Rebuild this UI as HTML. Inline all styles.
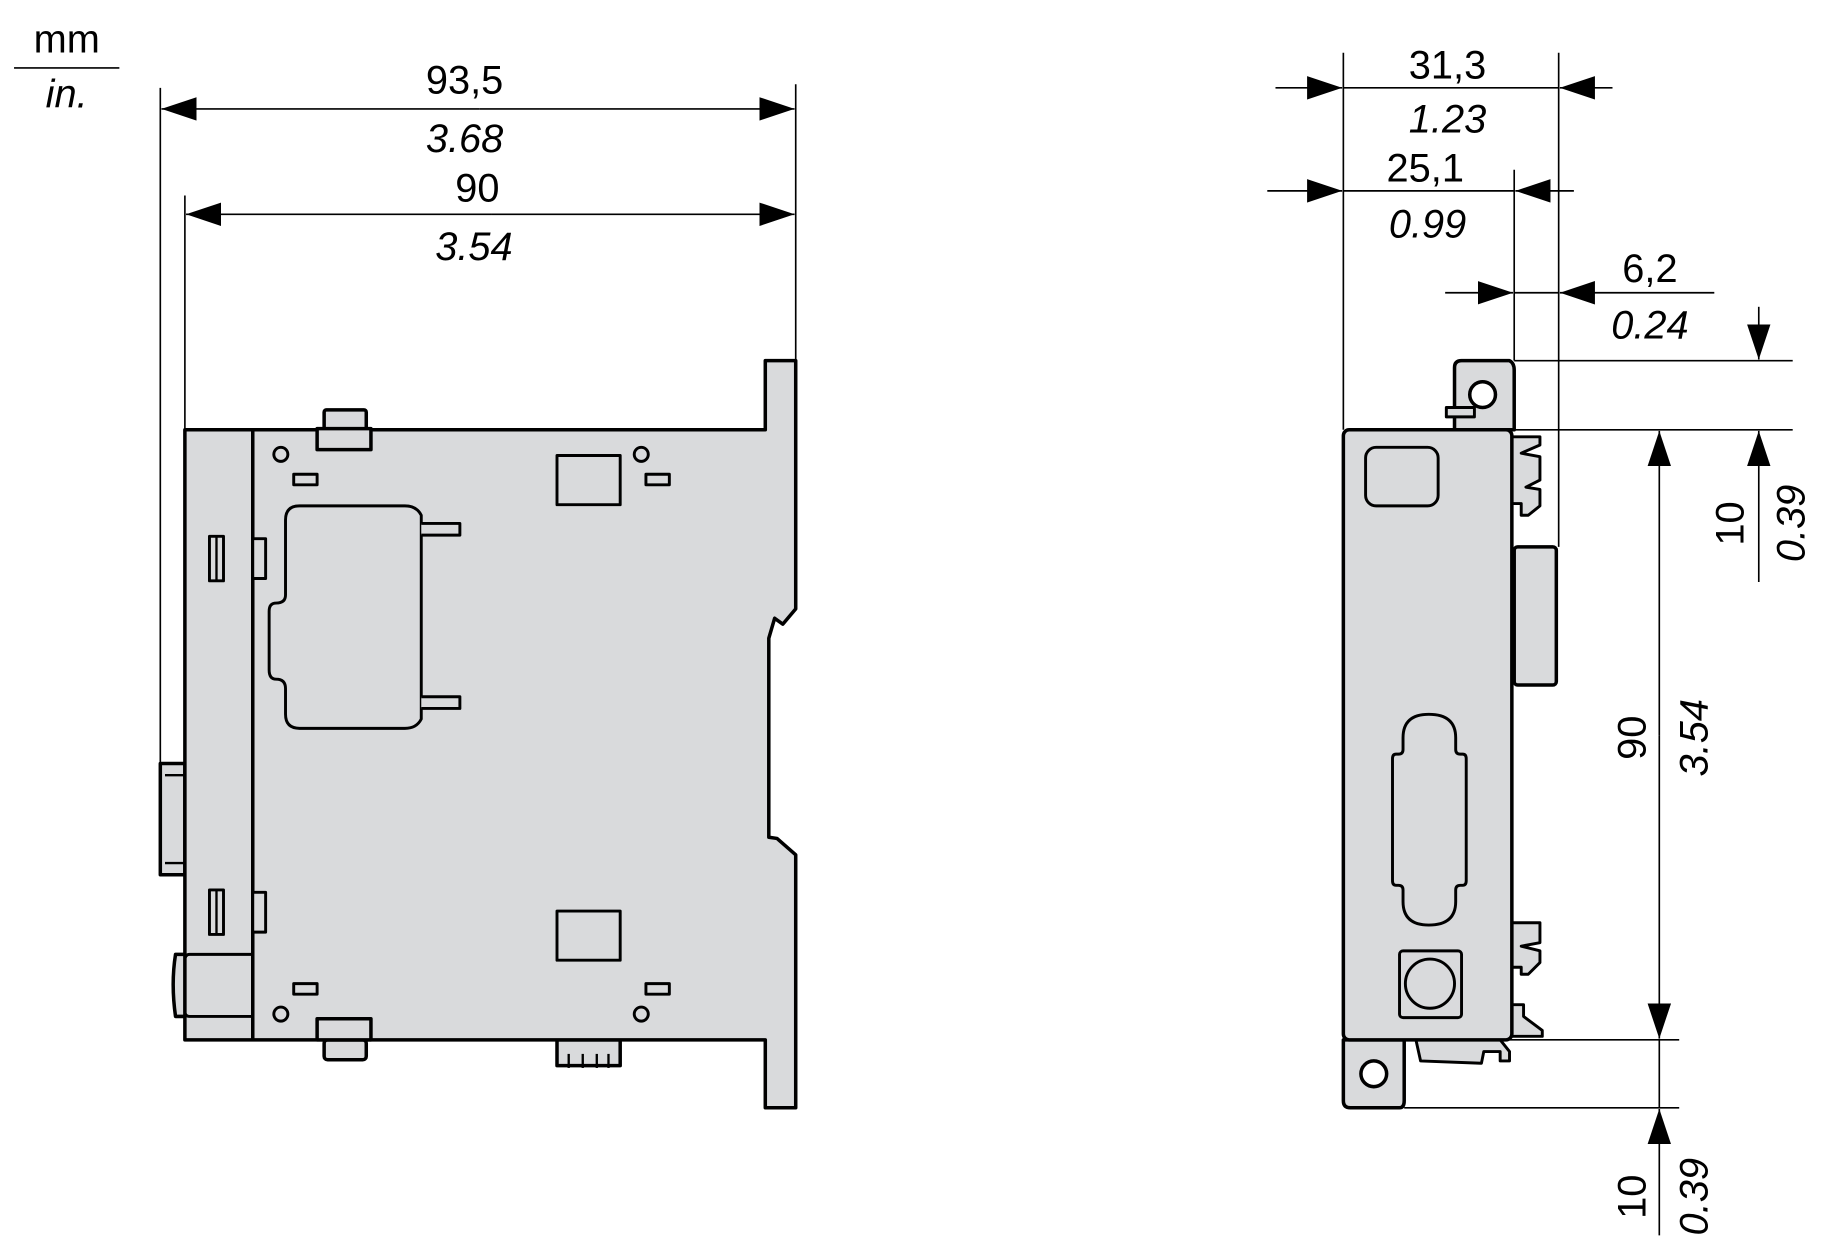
<!DOCTYPE html>
<html><head><meta charset="utf-8"><style>
html,body{margin:0;padding:0;background:#fff;}
svg{display:block;}
text{font-family:"Liberation Sans",Arial,sans-serif;fill:#000;}
</style></head><body>
<svg width="1836" height="1260" viewBox="0 0 1569 1076" preserveAspectRatio="none" xmlns="http://www.w3.org/2000/svg">
<defs>
<marker id="a" viewBox="0 0 30 20" refX="30" refY="10" markerWidth="30" markerHeight="20" markerUnits="userSpaceOnUse" orient="auto"><path d="M0,0 L30,10 L0,20 Z" fill="#000"/></marker>
</defs>
<g stroke="#000" stroke-width="1.4" fill="none">
<line x1="12" y1="58" x2="102" y2="58"/>
<line x1="137" y1="75" x2="137" y2="745"/>
<line x1="680" y1="72" x2="680" y2="310"/>
<line x1="158" y1="167" x2="158" y2="367"/>
<line x1="410" y1="93" x2="138" y2="93" marker-end="url(#a)"/>
<line x1="410" y1="93" x2="679" y2="93" marker-end="url(#a)"/>
<line x1="420" y1="183" x2="159" y2="183" marker-end="url(#a)"/>
<line x1="420" y1="183" x2="679" y2="183" marker-end="url(#a)"/>
<line x1="1148" y1="45" x2="1148" y2="367"/>
<line x1="1332" y1="45" x2="1332" y2="467"/>
<line x1="1294" y1="145" x2="1294" y2="308"/>
<line x1="1090" y1="75" x2="1147" y2="75" marker-end="url(#a)"/>
<line x1="1378" y1="75" x2="1333" y2="75" marker-end="url(#a)"/>
<line x1="1148" y1="75" x2="1332" y2="75"/>
<line x1="1083" y1="163" x2="1147" y2="163" marker-end="url(#a)"/>
<line x1="1345" y1="163" x2="1295" y2="163" marker-end="url(#a)"/>
<line x1="1148" y1="163" x2="1294" y2="163"/>
<line x1="1235" y1="250" x2="1293" y2="250" marker-end="url(#a)"/>
<line x1="1465" y1="250" x2="1333" y2="250" marker-end="url(#a)"/>
<line x1="1294" y1="250" x2="1332" y2="250"/>
<line x1="1294" y1="308" x2="1532" y2="308"/>
<line x1="1290" y1="367" x2="1532" y2="367"/>
<line x1="1503" y1="262" x2="1503" y2="307" marker-end="url(#a)"/>
<line x1="1503" y1="497" x2="1503" y2="368" marker-end="url(#a)"/>
<line x1="1418" y1="628" x2="1418" y2="368" marker-end="url(#a)"/>
<line x1="1418" y1="628" x2="1418" y2="887" marker-end="url(#a)"/>
<line x1="1290" y1="888" x2="1435" y2="888"/>
<line x1="1200" y1="946" x2="1435" y2="946"/>
<line x1="1418" y1="888" x2="1418" y2="946"/>
<line x1="1418" y1="1055" x2="1418" y2="947" marker-end="url(#a)"/>
</g>
<g font-size="34" text-anchor="middle">
<text x="57" y="45">mm</text>
<text x="57" y="92" font-style="italic">in.</text>
<text x="397" y="80">93,5</text>
<text x="397" y="130" font-style="italic">3.68</text>
<text x="408" y="172">90</text>
<text x="405" y="222" font-style="italic">3.54</text>
<text x="1237" y="67">31,3</text>
<text x="1237" y="113" font-style="italic">1.23</text>
<text x="1218" y="155">25,1</text>
<text x="1220" y="203" font-style="italic">0.99</text>
<text x="1410" y="241">6,2</text>
<text x="1410" y="289" font-style="italic">0.24</text>
<text transform="translate(1490,447) rotate(-90)">10</text>
<text transform="translate(1542,447) rotate(-90)" font-style="italic">0.39</text>
<text transform="translate(1406,630) rotate(-90)">90</text>
<text transform="translate(1459,630) rotate(-90)" font-style="italic">3.54</text>
<text transform="translate(1406,1022) rotate(-90)">10</text>
<text transform="translate(1459,1022) rotate(-90)" font-style="italic">0.39</text>
</g>
<!-- LEFT VIEW -->
<g stroke="#000" stroke-width="3" fill="#d9dadc" stroke-linejoin="round">
<rect x="137" y="652" width="21" height="95"/>
<path d="M158,815 L150,815 Q146,840 150,868 L158,868"/>
<rect x="277" y="350" width="36" height="18" rx="2"/>
<rect x="476" y="888" width="54" height="22"/>
<rect x="277" y="888" width="36" height="17" rx="3"/>
<path d="M158,367 L654,367 L654,308 L680,308 L680,520 L669,533 L662,528 L657,545 L657,715 L664,716 L680,730 L680,946 L654,946 L654,888 L158,888 Z"/>
<rect x="271" y="366" width="46" height="18"/>
<rect x="271" y="870" width="46" height="18"/>
<line x1="216" y1="367" x2="216" y2="888"/>
<path d="M216,815 L162,815 Q158,815 158,820 L158,864 Q158,868 162,868 L216,868" fill="none" stroke-width="2.5"/>
<line x1="141" y1="662" x2="158" y2="662" stroke-width="2"/>
<line x1="141" y1="737" x2="158" y2="737" stroke-width="2"/>
<line x1="486" y1="912" x2="486" y2="900" stroke-width="2"/>
<line x1="498" y1="912" x2="498" y2="900" stroke-width="2"/>
<line x1="510" y1="912" x2="510" y2="900" stroke-width="2"/>
<line x1="520" y1="912" x2="520" y2="900" stroke-width="2"/>
<circle cx="240" cy="388" r="6" stroke-width="2.5"/>
<circle cx="548" cy="388" r="6" stroke-width="2.5"/>
<circle cx="240" cy="866" r="6" stroke-width="2.5"/>
<circle cx="548" cy="866" r="6" stroke-width="2.5"/>
<rect x="251" y="405" width="20" height="9" stroke-width="2.5"/>
<rect x="552" y="405" width="20" height="9" stroke-width="2.5"/>
<rect x="251" y="840" width="20" height="9" stroke-width="2.5"/>
<rect x="552" y="840" width="20" height="9" stroke-width="2.5"/>
<rect x="476" y="389" width="54" height="42" stroke-width="2.5"/>
<rect x="476" y="778" width="54" height="42" stroke-width="2.5"/>
<path d="M360,440 Q356,432 346,432 L256,432 Q244,432 244,444 L244,508 Q244,515 236,515 Q230,515 230,522 L230,572 Q230,580 236,580 Q244,580 244,588 L244,610 Q244,622 256,622 L346,622 Q356,622 360,614 Z" stroke-width="2.5"/>
<path d="M360,447 L393,447 L393,457 L360,457 M360,595 L393,595 L393,605 L360,605" stroke-width="2.5"/>
<rect x="179" y="458" width="12" height="38" stroke-width="2.5"/>
<line x1="185" y1="458" x2="185" y2="496" stroke-width="2"/>
<rect x="216" y="460" width="11" height="34" stroke-width="2.5"/>
<rect x="179" y="760" width="12" height="38" stroke-width="2.5"/>
<line x1="185" y1="760" x2="185" y2="798" stroke-width="2"/>
<rect x="216" y="762" width="11" height="34" stroke-width="2.5"/>
</g>
<!-- RIGHT VIEW -->
<g stroke="#000" stroke-width="3" fill="#d9dadc" stroke-linejoin="round">
<rect x="1294" y="467" width="36" height="118" rx="3"/>
<path d="M1243,367 L1243,314 Q1243,308 1249,308 L1290,308 Q1294,310 1294,316 L1294,367 Z"/>
<circle cx="1267" cy="337" r="11" fill="#fff"/>
<path d="M1236,348 L1260,348 L1260,356 L1236,356 Z" stroke-width="2.5"/>
<path d="M1290,373 L1316,373 L1316,380 L1300,387 L1316,390 L1316,410 L1304,416 L1316,418 L1316,432 L1306,440 L1300,440 L1300,430 L1290,430 Z" stroke-width="2.5"/>
<path d="M1290,788 L1316,788 L1316,805 L1300,808 L1316,812 L1316,822 L1306,832 L1300,832 L1300,826 L1290,826 Z" stroke-width="2.5"/>
<path d="M1290,858 L1302,858 L1302,868 L1318,880 L1318,885 L1290,885 Z" stroke-width="2.5"/>
<path d="M1200,888 L1148,888 L1148,940 Q1148,946 1154,946 L1196,946 Q1200,946 1200,940 Z"/>
<circle cx="1174" cy="917" r="11" fill="#fff"/>
<path d="M1210,888 L1214,906 L1266,908 L1268,898 L1282,898 L1282,906 L1290,906 L1290,898 L1282,888 Z" stroke-width="2.5"/>
<rect x="1148" y="367" width="144" height="521" rx="5"/>
<rect x="1167" y="382" width="62" height="50" rx="9" stroke-width="2.5"/>
<path d="M1199,640 L1199,630 Q1199,610 1221,610 Q1244,610 1244,630 L1244,640 Q1244,644 1248,644 L1250,644 Q1253,644 1253,648 L1253,752 Q1253,756 1250,756 L1248,756 Q1244,756 1244,760 L1244,770 Q1244,790 1221,790 Q1199,790 1199,770 L1199,760 Q1199,756 1195,756 L1193,756 Q1190,756 1190,752 L1190,648 Q1190,644 1193,644 L1195,644 Q1199,644 1199,640 Z" fill="none" stroke-width="2.5"/>
<rect x="1196" y="812" width="53" height="57" rx="3" stroke-width="2.5"/>
<circle cx="1222" cy="840" r="21" stroke-width="2.5"/>
</g>
</svg>
</body></html>
